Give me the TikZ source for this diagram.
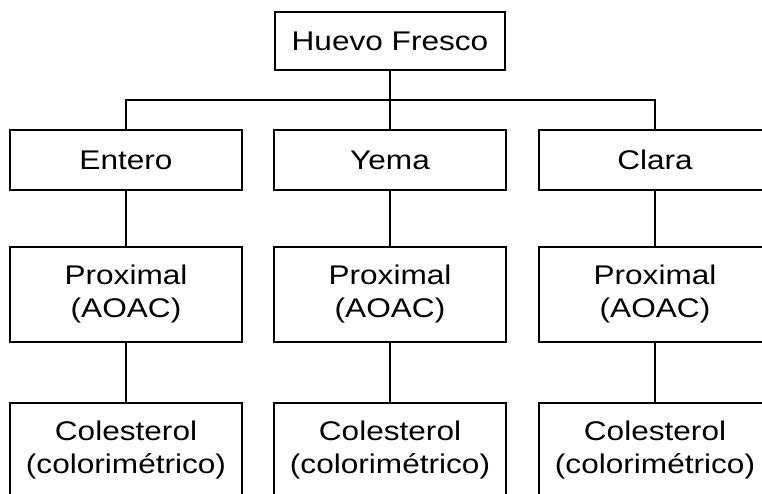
\documentclass[tikz,border=0pt]{standalone}
\usepackage{fontspec}
\setmainfont[FakeStretch=1.17]{Liberation Sans}
\tikzset{
  box/.style={draw, line width=1.8pt, minimum width=232pt, minimum height=60pt,
    align=center, inner sep=0pt, font=\fontsize{27}{33}\selectfont},
  tallbox/.style={box, minimum height=95pt},
  link/.style={line width=1.8pt}
}
\begin{document}
\begin{tikzpicture}[x=1pt,y=-1pt]
\useasboundingbox (0,0) rectangle (762,493);
\node[box, minimum width=230pt, minimum height=58pt] (top) at (390,41) {Huevo Fresco};
\node[box] (entero) at (126,160) {Entero};
\node[box] (yema) at (390,160) {Yema};
\node[box] (clara) at (655,160) {Clara};
\node[tallbox] (p1) at (126,294.5) {Proximal\\(AOAC)};
\node[tallbox] (p2) at (390,294.5) {Proximal\\(AOAC)};
\node[tallbox] (p3) at (655,294.5) {Proximal\\(AOAC)};
\node[tallbox] (c1) at (126,450.5) {Colesterol\\(colorimétrico)};
\node[tallbox] (c2) at (390,450.5) {Colesterol\\(colorimétrico)};
\node[tallbox] (c3) at (655,450.5) {Colesterol\\(colorimétrico)};
\coordinate (bus) at (390,100);
\draw[link] (top.south) -- (yema.north);
\draw[link] (entero.north) |- (bus) -| (clara.north);
\draw[link] (entero) -- (p1);
\draw[link] (yema) -- (p2);
\draw[link] (clara) -- (p3);
\draw[link] (p1) -- (c1);
\draw[link] (p2) -- (c2);
\draw[link] (p3) -- (c3);
\end{tikzpicture}
\end{document}
